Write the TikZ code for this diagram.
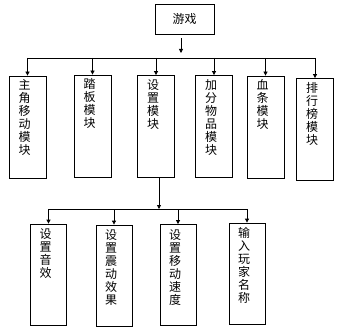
\documentclass[tikz,border=0pt]{standalone}
\usepackage{fontspec}
\newfontfamily\cjk{Noto Sans CJK SC}
\usepackage{tikz}
\usetikzlibrary{arrows.meta, positioning, calc}
\tikzset{
    block_top/.style={rectangle, draw, line width=0.8pt, minimum width=59pt, minimum height=30pt, font=\cjk\fontsize{12}{13}\selectfont},
    block_mod/.style={rectangle, draw, line width=0.8pt, minimum width=37pt, minimum height=102pt},
    block_sub/.style={rectangle, draw, line width=0.8pt, minimum width=36pt, minimum height=101pt},
    vtext/.style={anchor=north, align=center, inner sep=0pt, font=\cjk\fontsize{12}{13}\selectfont},
    bus/.style={line width=0.8pt},
    arrow/.style={-{Triangle[width=4pt,length=4pt]}, line width=0.8pt}
}
\begin{document}
\begin{tikzpicture}[x=1pt, y=-1pt]
            \useasboundingbox (0,0) rectangle (348,334);

            % Root
            \node (game) [block_top] at (184.5, 19) {游戏};

            % First level modules
            \node (m1) [block_mod] at (27.5, 127) {};
            \node (m2) [block_mod] at (92.5, 126) {};
            \node (m3) [block_mod] at (156, 126.5) {};
            \node (m4) [block_mod] at (214, 126.5) {};
            \node (m5) [block_mod] at (265.5, 127) {};
            \node (m6) [block_mod] at (315, 129.5) {};
            \node (m1t) [vtext, below=4pt of m1.north, xshift=-3pt] {主\\角\\移\\动\\模\\块};
            \node (m2t) [vtext, below=4pt of m2.north, xshift=-3pt] {踏\\板\\模\\块};
            \node (m3t) [vtext, below=4pt of m3.north, xshift=-3pt] {设\\置\\模\\块};
            \node (m4t) [vtext, below=4pt of m4.north, xshift=-3pt] {加\\分\\物\\品\\模\\块};
            \node (m5t) [vtext, below=4pt of m5.north, xshift=-3pt] {血\\条\\模\\块};
            \node (m6t) [vtext, below=4pt of m6.north, xshift=-3pt] {排\\行\\榜\\模\\块};

            % Settings sub-modules
            \node (s1) [block_sub] at (48.5, 274.5) {};
            \node (s2) [block_sub] at (114, 275.5) {};
            \node (s3) [block_sub] at (178, 275) {};
            \node (s4) [block_sub] at (247, 273.5) {};
            \node (s1t) [vtext, below=5pt of s1.north, xshift=-3pt] {设\\置\\音\\效};
            \node (s2t) [vtext, below=5pt of s2.north, xshift=-3pt] {设\\置\\震\\动\\效\\果};
            \node (s3t) [vtext, below=5pt of s3.north, xshift=-3pt] {设\\置\\移\\动\\速\\度};
            \node (s4t) [vtext, below=5pt of s4.north, xshift=-3pt] {输\\入\\玩\\家\\名\\称};

            % Bus lines
            \coordinate (bus1) at (181, 58);
            \coordinate (bus2) at (159, 209);

            % Connections: root to modules
            \draw [arrow, shorten <=4pt, shorten >=5pt] (game.south -| bus1) -- (bus1);
            \draw [bus] (m1.north |- bus1) -- (m6.north |- bus1);
            \foreach \m in {m1, m2, m3, m4, m5, m6}
                \draw [arrow] (\m.north |- bus1) -- (\m.north);

            % Connections: settings to sub-modules
            \draw [arrow] (m3.south -| bus2) -- (bus2);
            \draw [bus] (s1.north |- bus2) -- (s4.north |- bus2);
            \foreach \s in {s1, s2, s3, s4}
                \draw [arrow] (\s.north |- bus2) -- (\s.north);
\end{tikzpicture}
\end{document}
